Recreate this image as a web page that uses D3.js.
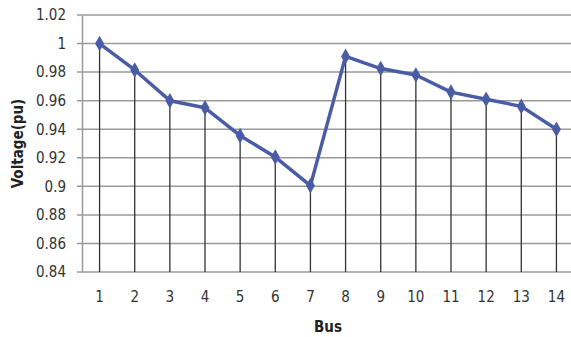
<!DOCTYPE html>
<html>
<head>
<meta charset="utf-8">
<script src="https://cdn.jsdelivr.net/npm/d3@7"></script>
<style>
  html, body { margin: 0; padding: 0; background: #fff; }
  svg { display: block; }
</style>
</head>
<body>
<svg id="chart" width="571" height="337"></svg>
<script>
// Bus voltage profile
const buses = ["1","2","3","4","5","6","7","8","9","10","11","12","13","14"];
const voltage = [1.0, 0.9815, 0.96, 0.955, 0.9355, 0.9205, 0.9005, 0.991, 0.9825, 0.978, 0.966, 0.961, 0.956, 0.94];
const yTicks = [0.84, 0.86, 0.88, 0.9, 0.92, 0.94, 0.96, 0.98, 1, 1.02];

const svg = d3.select("#chart");
const margin = { left: 82, right: -3, top: 15, bottom: 65 };
const W = 571, H = 337;

const x = d3.scaleBand().domain(buses).range([margin.left, W - margin.right]);
const y = d3.scaleLinear().domain([0.84, 1.02]).range([H - margin.bottom, margin.top]);
const cx = d => x(d) + x.bandwidth() / 2;

const fontFam = "'Liberation Sans Narrow', 'DejaVu Sans Condensed', sans-serif";

// horizontal gridlines
svg.append("g")
  .selectAll("line").data(yTicks).join("line")
  .attr("x1", margin.left - 5).attr("x2", W)
  .attr("y1", d => y(d)).attr("y2", d => y(d))
  .attr("stroke", "#9a9a9a").attr("stroke-width", 1.5);

// y axis
const yAxis = svg.append("g")
  .attr("transform", `translate(${margin.left},0)`)
  .call(d3.axisLeft(y).tickValues(yTicks).tickSize(0).tickPadding(16).tickFormat(d => String(+d.toFixed(2))));
yAxis.select(".domain").attr("stroke", "#9a9a9a").attr("stroke-width", 1.5);
yAxis.selectAll("text").attr("font-family", fontFam).attr("font-size", 15).attr("fill", "#333");

// x axis
const xAxis = svg.append("g")
  .attr("transform", `translate(0,${y(0.84)})`)
  .call(d3.axisBottom(x).tickSize(0).tickPadding(19));
xAxis.select(".domain").remove();
xAxis.selectAll("text").attr("font-family", fontFam).attr("font-size", 15).attr("fill", "#333");

// drop lines from each point to the base
svg.append("g")
  .selectAll("line").data(buses).join("line")
  .attr("x1", d => cx(d)).attr("x2", d => cx(d))
  .attr("y1", (d, i) => y(voltage[i])).attr("y2", y(0.84))
  .attr("stroke", "#333").attr("stroke-width", 1.3);

// series line
const line = d3.line().x((d, i) => cx(buses[i])).y(d => y(d));
svg.append("path")
  .datum(voltage)
  .attr("d", line)
  .attr("fill", "none")
  .attr("stroke", "#4a5ca6")
  .attr("stroke-width", 3.5)
  .attr("stroke-linejoin", "round");

// diamond markers
svg.append("g")
  .selectAll("path").data(voltage).join("path")
  .attr("transform", (d, i) => `translate(${cx(buses[i])},${y(d)})`)
  .attr("d", d3.symbol(d3.symbolDiamond, 70))
  .attr("fill", "#4a5ca6");

// axis titles
svg.append("text")
  .attr("x", (margin.left + W - margin.right) / 2)
  .attr("y", 332)
  .attr("text-anchor", "middle")
  .attr("font-family", fontFam).attr("font-weight", "bold").attr("font-size", 15)
  .attr("fill", "#222")
  .text("Bus");

svg.append("text")
  .attr("transform", `translate(23,${(y(0.84) + y(1.02)) / 2}) rotate(-90)`)
  .attr("text-anchor", "middle")
  .attr("font-family", fontFam).attr("font-weight", "bold").attr("font-size", 15)
  .attr("fill", "#222")
  .text("Voltage(pu)");
</script>
</body>
</html>
